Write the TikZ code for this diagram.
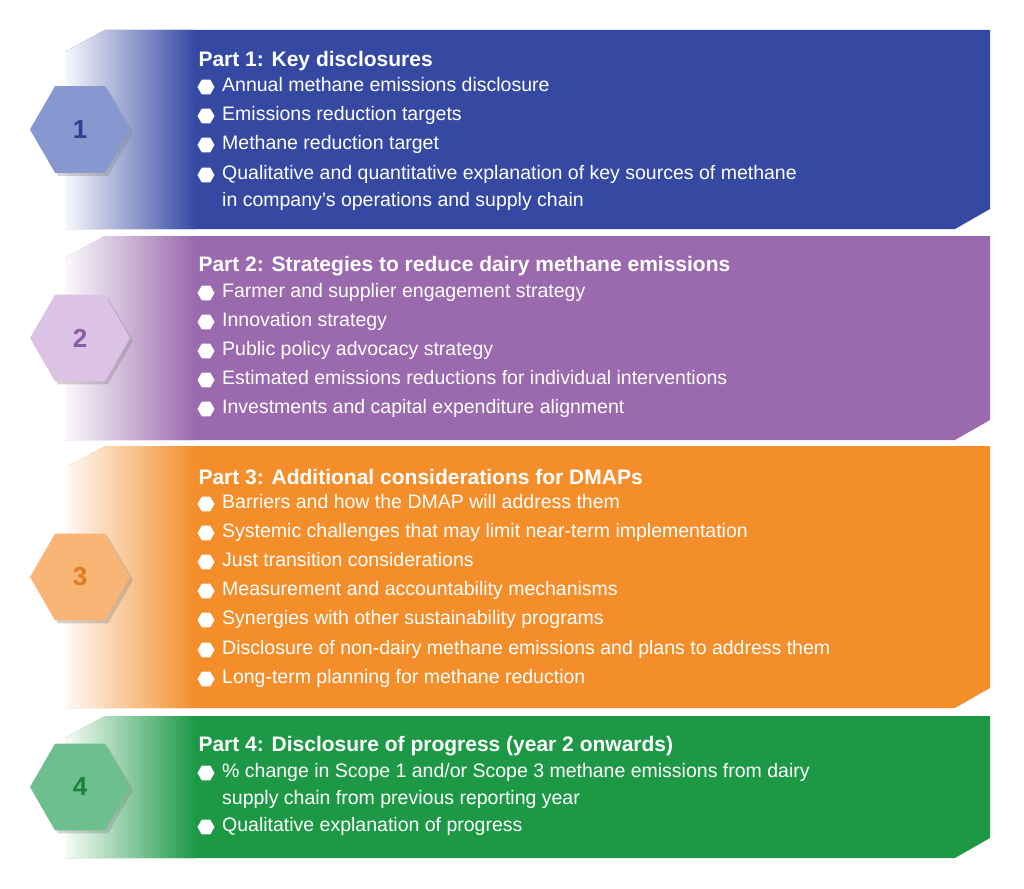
\documentclass[tikz,border=0pt]{standalone}
\usepackage{fontspec}
\setmainfont{Liberation Sans}
\usetikzlibrary{shapes.geometric,shadows}
\definecolor{cA}{HTML}{3549A3}\definecolor{hA}{HTML}{8797CF}\definecolor{nA}{HTML}{2E3F8F}
\definecolor{cB}{HTML}{9B6AAE}\definecolor{hB}{HTML}{DCC3E6}\definecolor{nB}{HTML}{8A5BA0}
\definecolor{cC}{HTML}{F38E2B}\definecolor{hC}{HTML}{F9B576}\definecolor{nC}{HTML}{E9781A}
\definecolor{cD}{HTML}{1D9946}\definecolor{hD}{HTML}{6DBF8E}\definecolor{nD}{HTML}{17833B}
\tikzset{
 hexbig/.style={regular polygon,regular polygon sides=6,shape border rotate=0,minimum size=100pt,inner sep=0pt,font=\fontsize{26}{26}\selectfont\bfseries,drop shadow={shadow xshift=3pt,shadow yshift=-3pt,opacity=0.35}},
 head/.style={anchor=west,text=white,font=\fontsize{21}{24}\selectfont\bfseries},
 item/.style={anchor=north west,text=white,font=\fontsize{19.5}{27}\selectfont,align=left,inner sep=0pt},
 bul/.style={regular polygon,regular polygon sides=6,fill=white,minimum size=17pt,inner sep=0pt}
}
\newcommand{\band}[6]{% top bottom color hexcol numcol number
 \path[fill=#3] (105,#1) -- (990,#1) -- (990,#2-20) -- (955,#2) -- (65,#2) -- (65,#1+22) -- cycle;
 \begin{scope}
 \clip (105,#1) -- (990,#1) -- (990,#2-20) -- (955,#2) -- (65,#2) -- (65,#1+22) -- cycle;
 \shade[left color=white,right color=#3] (60,#1) rectangle (195,#2);
 \end{scope}
 \node[hexbig,fill=#4,text=#5] (h#6) at (80,{(#1+#2)/2}) {#6};
}
\newcommand{\bitem}[2]{\node[bul] at (206,#1+10) {}; \node[item] at (222,#1) {#2};}
\begin{document}
\begin{tikzpicture}[x=1pt,y=-1pt]
\useasboundingbox (0,0) rectangle (1024,888);
\band{30}{229}{cA}{hA}{nA}{1}
\node[head] (t1) at (195,61) {Part 1: Key disclosures};
\bitem{77}{Annual methane emissions disclosure}
\bitem{106}{Emissions reduction targets}
\bitem{135}{Methane reduction target}
\bitem{165}{Qualitative and quantitative explanation of key sources of methane\\in company's operations and supply chain}
\band{236}{440}{cB}{hB}{nB}{2}
\node[head] (t2) at (195,266) {Part 2: Strategies to reduce dairy methane emissions};
\bitem{283}{Farmer and supplier engagement strategy}
\bitem{312}{Innovation strategy}
\bitem{341}{Public policy advocacy strategy}
\bitem{370}{Estimated emissions reductions for individual interventions}
\bitem{399}{Investments and capital expenditure alignment}
\band{446}{708}{cC}{hC}{nC}{3}
\node[head] (t3) at (195,477) {Part 3: Additional considerations for DMAPs};
\bitem{494}{Barriers and how the DMAP will address them}
\bitem{523}{Systemic challenges that may limit near-term implementation}
\bitem{552}{Just transition considerations}
\bitem{581}{Measurement and accountability mechanisms}
\bitem{610}{Synergies with other sustainability programs}
\bitem{640}{Disclosure of non-dairy methane emissions and plans to address them}
\bitem{669}{Long-term planning for methane reduction}
\band{716}{858}{cD}{hD}{nD}{4}
\node[head] (t4) at (195,746) {Part 4: Disclosure of progress (year 2 onwards)};
\bitem{763}{\% change in Scope 1 and/or Scope 3 methane emissions from dairy\\supply chain from previous reporting year}
\bitem{817}{Qualitative explanation of progress}
\end{tikzpicture}
\end{document}
